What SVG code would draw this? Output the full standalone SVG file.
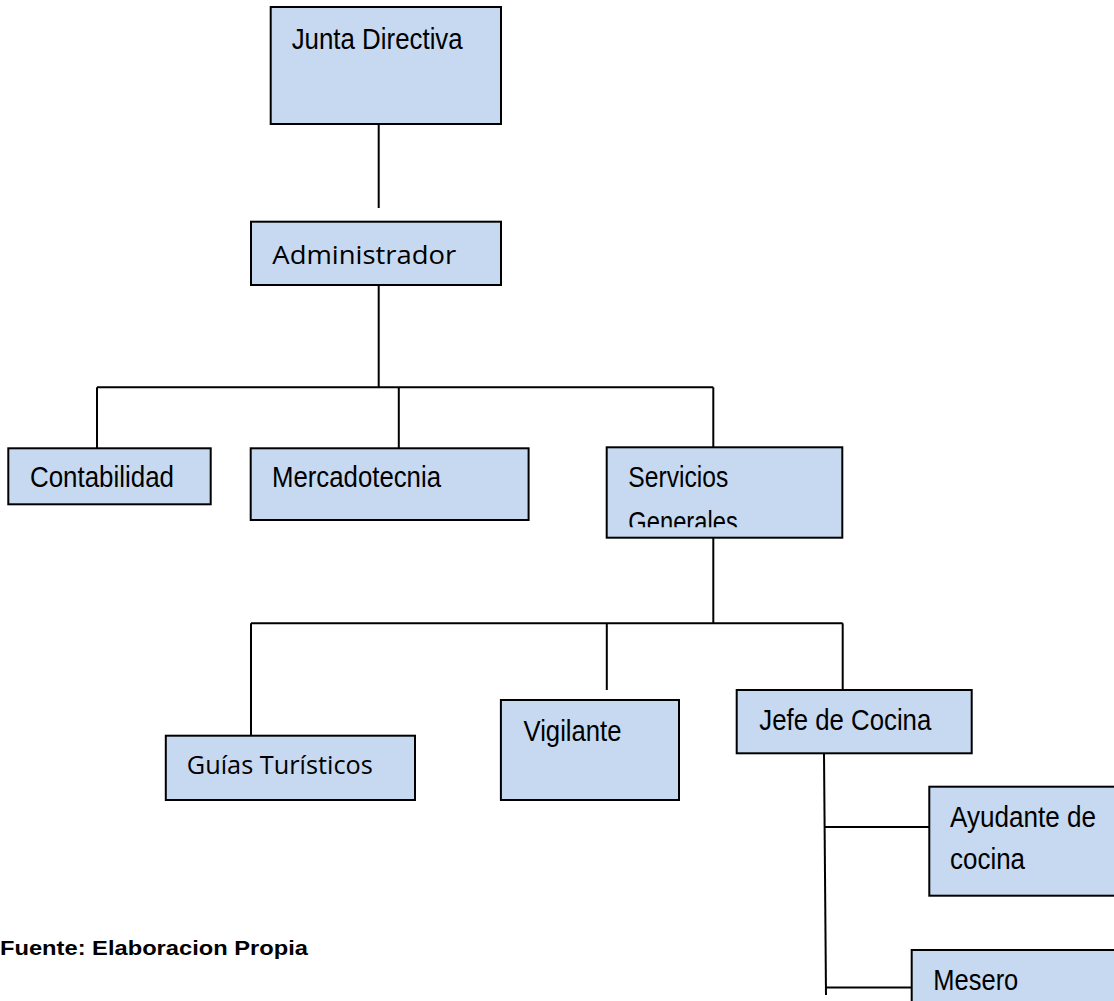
<svg xmlns="http://www.w3.org/2000/svg" width="1114" height="1001" viewBox="0 0 1114 1001">
<style>
.box{fill:#C6D9F1;stroke:#000;stroke-width:2}
.lbl{font-family:"Liberation Sans",Arial,sans-serif;font-size:29px;fill:#000}
.cal{font-family:"Open Sans","Liberation Sans",sans-serif;font-size:26px;fill:#000}
.con{fill:none;stroke:#000;stroke-width:2}
</style>
<defs>
<clipPath id="clipSG"><rect x="607" y="448" width="235" height="79.3"/></clipPath>
</defs>
<rect width="1114" height="1001" fill="#fff"/>
<g id="connectors">
<path class="con" d="M378.7,124 V208"/>
<path class="con" d="M378.7,285 V387.3"/>
<path class="con" d="M97,387.3 H713.3"/>
<path class="con" d="M97,387.3 V448.3"/>
<path class="con" d="M398.8,387.3 V448.3"/>
<path class="con" d="M713.3,387.3 V447.3"/>
<path class="con" d="M713.3,537.7 V623.3"/>
<path class="con" d="M251,623.3 H842.7"/>
<path class="con" d="M251,623.3 V735.7"/>
<path class="con" d="M606.8,623.3 V690"/>
<path class="con" d="M842.7,623.3 V690"/>
<path class="con" d="M824,753.3 L826,995"/>
<path class="con" d="M824.6,827 H929.3"/>
<path class="con" d="M825.7,987.5 H911.7"/>
</g>
<g id="junta">
<rect class="box" x="270.7" y="7" width="230.3" height="117"/>
<text class="lbl" x="291.7" y="49.3" textLength="171" lengthAdjust="spacingAndGlyphs">Junta Directiva</text>
</g>
<g id="administrador">
<rect class="box" x="251" y="221.7" width="250" height="63.3"/>
<text class="cal" x="272.3" y="264.3" font-size="28" textLength="184" lengthAdjust="spacingAndGlyphs">Administrador</text>
</g>
<g id="contabilidad">
<rect class="box" x="8.3" y="448.3" width="202.4" height="56"/>
<text class="lbl" x="30" y="486.7" font-size="30" textLength="144" lengthAdjust="spacingAndGlyphs">Contabilidad</text>
</g>
<g id="mercadotecnia">
<rect class="box" x="250.7" y="448.3" width="277.9" height="71.7"/>
<text class="lbl" x="272" y="486.7" font-size="30" textLength="169" lengthAdjust="spacingAndGlyphs">Mercadotecnia</text>
</g>
<g id="servicios">
<rect class="box" x="606.7" y="447.3" width="235.6" height="90.4"/>
<text class="lbl" x="628.3" y="486.7" textLength="100" lengthAdjust="spacingAndGlyphs">Servicios</text>
<text class="lbl" x="628.3" y="531.7" textLength="109.5" lengthAdjust="spacingAndGlyphs" clip-path="url(#clipSG)">Generales</text>
</g>
<g id="guias">
<rect class="box" x="165.8" y="735.7" width="249.2" height="64.3"/>
<text class="cal" x="186.8" y="774" font-size="24" textLength="186" lengthAdjust="spacingAndGlyphs">Guías Turísticos</text>
</g>
<g id="vigilante">
<rect class="box" x="500.9" y="700" width="178.1" height="100"/>
<text class="lbl" x="523.5" y="740.7" textLength="98" lengthAdjust="spacingAndGlyphs">Vigilante</text>
</g>
<g id="jefe">
<rect class="box" x="736.7" y="690" width="235" height="63.3"/>
<text class="lbl" x="759.3" y="730" textLength="172" lengthAdjust="spacingAndGlyphs">Jefe de Cocina</text>
</g>
<g id="ayudante">
<rect class="box" x="929.3" y="786.7" width="200" height="109"/>
<text class="lbl" x="950" y="827" font-size="30" textLength="146" lengthAdjust="spacingAndGlyphs">Ayudante de</text>
<text class="lbl" x="950" y="869.3" font-size="30" textLength="75" lengthAdjust="spacingAndGlyphs">cocina</text>
</g>
<g id="mesero">
<rect class="box" x="911.7" y="950" width="220" height="80"/>
<text class="lbl" x="933.3" y="989.5" textLength="85" lengthAdjust="spacingAndGlyphs">Mesero</text>
</g>
<text x="0" y="955" font-family="'Liberation Sans',Arial,sans-serif" font-size="21" font-weight="bold" fill="#000" textLength="308" lengthAdjust="spacingAndGlyphs">Fuente: Elaboracion Propia</text>
</svg>
